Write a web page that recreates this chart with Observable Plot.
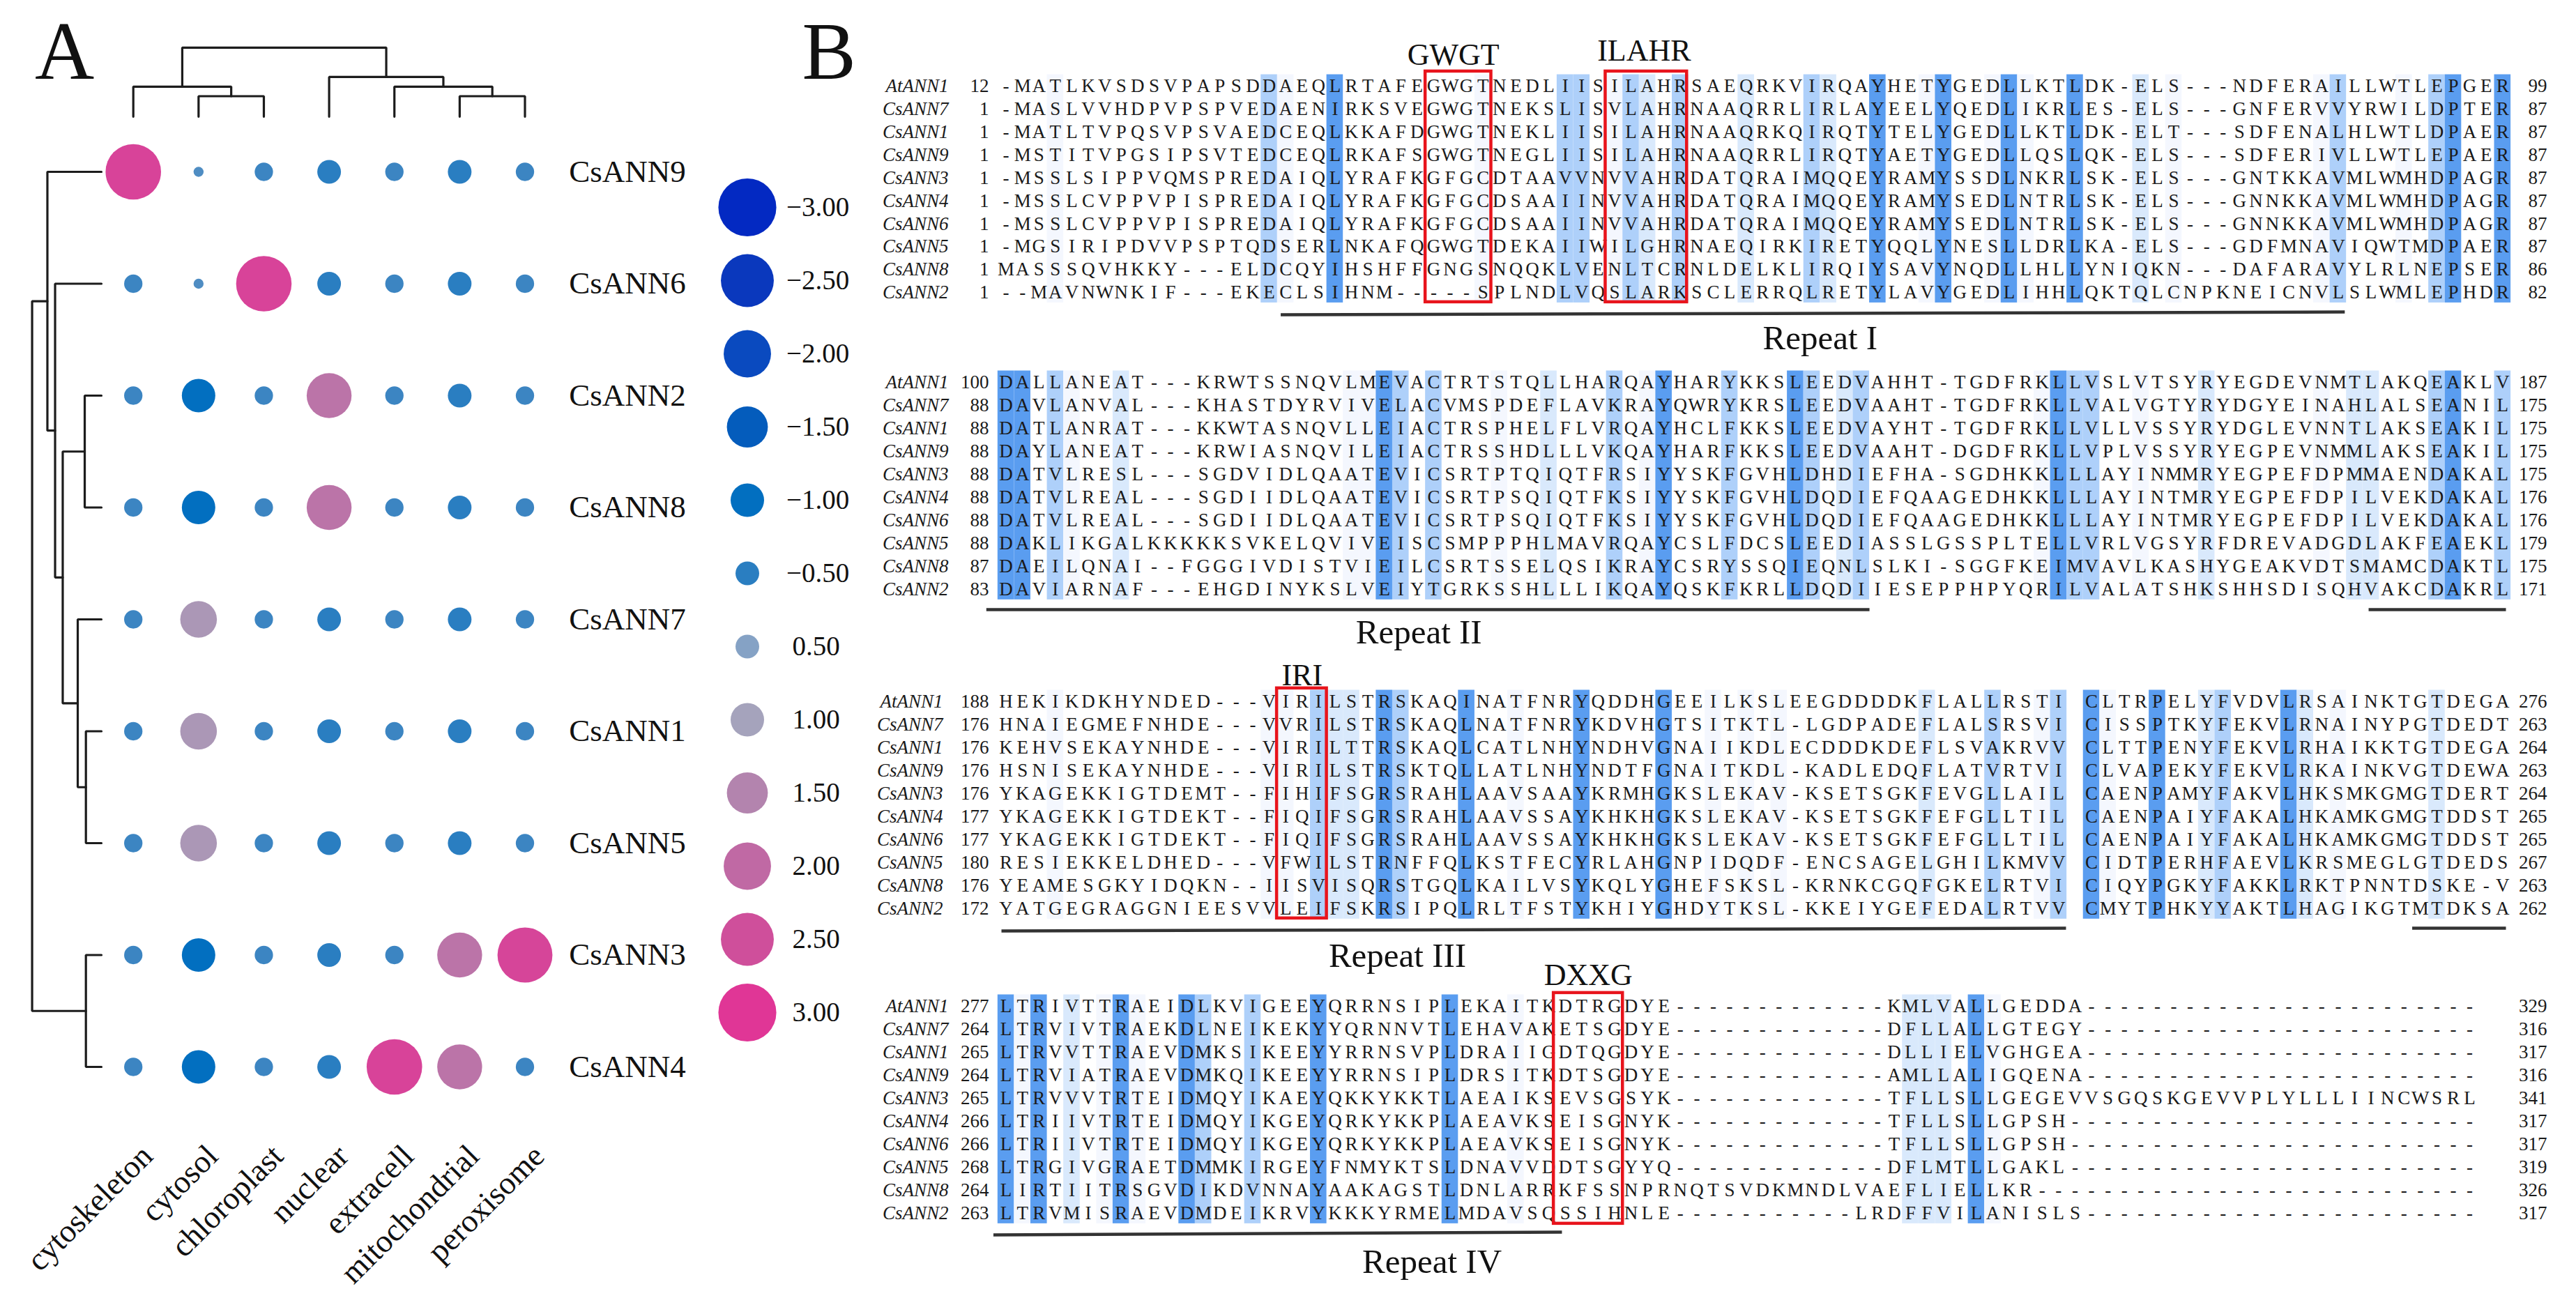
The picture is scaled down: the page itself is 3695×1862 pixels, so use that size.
<!DOCTYPE html>
<html><head><meta charset="utf-8">
<style>
html,body{margin:0;padding:0;background:#fff}
#page{position:relative;width:3695px;height:1862px;overflow:hidden;background:#fff}
#page svg{position:absolute;background:transparent;overflow:visible}
</style>
<script src="https://cdn.jsdelivr.net/npm/d3@7"></script>
<script src="https://cdn.jsdelivr.net/npm/@observablehq/plot@0.6"></script>
</head><body><div id="page"></div>
<script>
// ---------- Panel A data ----------
const genes = ["CsANN9","CsANN6","CsANN2","CsANN8","CsANN7","CsANN1","CsANN5","CsANN3","CsANN4"];
const locations = ["cytoskeleton","cytosol","chloroplast","nuclear","extracell","mitochondrial","peroxisome"];
const csANN9 = [2.75,-0.09,-0.3,-0.5,-0.3,-0.5,-0.3];
const csANN6 = [-0.3,-0.09,2.75,-0.5,-0.3,-0.5,-0.3];
const csANN2 = [-0.3,-1,-0.3,1.8,-0.3,-0.5,-0.3];
const csANN8 = [-0.3,-1,-0.3,1.8,-0.3,-0.5,-0.3];
const csANN7 = [-0.3,1.2,-0.3,-0.5,-0.3,-0.5,-0.3];
const csANN1 = [-0.3,1.2,-0.3,-0.5,-0.3,-0.5,-0.3];
const csANN5 = [-0.3,1.2,-0.3,-0.5,-0.3,-0.5,-0.3];
const csANN3 = [-0.3,-1,-0.3,-0.5,-0.3,1.8,2.7];
const csANN4 = [-0.3,-1,-0.3,-0.5,2.75,1.8,-0.3];
const scores = [csANN9,csANN6,csANN2,csANN8,csANN7,csANN1,csANN5,csANN3,csANN4];
const legendValues = [-3,-2.5,-2,-1.5,-1,-0.5,0.5,1,1.5,2,2.5,3];
const legendColors = ["#0329c2","#0a38bd","#0a4abf","#045cbc","#026fc0","#2a7ec1","#85a2c5","#a5a3bc","#b384ae","#c069a4","#cf4f9b","#e03696"];

// dendrograms: [id, child a, child b, merge height]
const rowMerges = [
  ["n3","CsANN2","CsANN8",0.256],
  ["n5","CsANN1","CsANN5",0.238],
  ["n6","CsANN3","CsANN4",0.238],
  ["n4","CsANN7","n5",0.363],
  ["n2","n3","n4",0.593],
  ["n1","CsANN6","n2",0.710],
  ["n0","CsANN9","n1",0.828],
  ["root","n0","n6",1.062]
];
const colMerges = [
  ["c1","cytosol","chloroplast",0.183],
  ["c2","cytoskeleton","c1",0.268],
  ["c3","mitochondrial","peroxisome",0.183],
  ["c4","extracell","c3",0.268],
  ["c5","nuclear","c4",0.355],
  ["croot","c2","c5",0.617]
];

// ---------- Panel B data ----------
const seqNames = ["AtANN1","CsANN7","CsANN1","CsANN9","CsANN3","CsANN4","CsANN6","CsANN5","CsANN8","CsANN2"];
const seq1 = [
"-MATLKVSDSVPAPSDDAEQLRTAFEGWGTNEDLIISILAHRSAEQRKVIRQAYHETYGEDLLKTLDK-ELS---NDFERAILLWTLEPGER",
"-MASLVVHDPVPSPVEDAENIRKSVEGWGTNEKSLISVLAHRNAAQRRLIRLAYEELYQEDLIKRLES-ELS---GNFERVVYRWILDPTER",
"-MATLTVPQSVPSVAEDCEQLKKAFDGWGTNEKLIISILAHRNAAQRKQIRQTYTELYGEDLLKTLDK-ELT---SDFENALHLWTLDPAER",
"-MSTITVPGSIPSVTEDCEQLRKAFSGWGTNEGLIISILAHRNAAQRRLIRQTYAETYGEDLLQSLQK-ELS---SDFERIVLLWTLEPAER",
"-MSSLSIPPVQMSPREDAIQLYRAFKGFGCDTAAVVNVVAHRDATQRAIMQQEYRAMYSSDLNKRLSK-ELS---GNTKKAVMLWMHDPAGR",
"-MSSLCVPPVPISPREDAIQLYRAFKGFGCDSAAIINVVAHRDATQRAIMQQEYRAMYSEDLNTRLSK-ELS---GNNKKAVMLWMHDPAGR",
"-MSSLCVPPVPISPREDAIQLYRAFKGFGCDSAAIINVVAHRDATQRAIMQQEYRAMYSEDLNTRLSK-ELS---GNNKKAVMLWMHDPAGR",
"-MGSIRIPDVVPSPTQDSERLNKAFQGWGTDEKAIIWILGHRNAEQIRKIRETYQQLYNESLLDRLKA-ELS---GDFMNAVIQWTMDPAER",
"MASSSQVHKKY---ELDCQYIHSHFFGNGSNQQKLVENLTCRNLDELKLIRQIYSAVYNQDLLHLLYNIQKN---DAFARAVYLRLNEPSER",
"--MAVNWNKIF---EKECLSIHNM-----SPLNDLVQSLARKSCLERRQLRETYLAVYGEDLIHHLQKTQLCNPKNEICNVLSLWMLEPHDR"];
const seq2 = [
"DALLANEAT---KRWTSSNQVLMEVACTRTSTQLLHARQAYHARYKKSLEEDVAHHT-TGDFRKLLVSLVTSYRYEGDEVNMTLAKQEAKLV",
"DAVLANVAL---KHASTDYRVIVELACVMSPDEFLAVKRAYQWRYKRSLEEDVAAHT-TGDFRKLLVALVGTYRYDGYEINAHLALSEANIL",
"DATLANRAT---KKWTASNQVLLEIACTRSPHELFLVRQAYHCLFKKSLEEDVAYHT-TGDFRKLLVLLVSSYRYDGLEVNNTLAKSEAKIL",
"DAYLANEAT---KRWIASNQVILEIACTRSSHDLLLVKQAYHARFKKSLEEDVAAHT-DGDFRKLLVPLVSSYRYEGPEVNMMLAKSEAKIL",
"DATVLRESL---SGDVIDLQAATEVICSRTPTQIQTFRSIYYSKFGVHLDHDIEFHA-SGDHKKLLLAYINMMRYEGPEFDPMMAENDAKAL",
"DATVLREAL---SGDIIDLQAATEVICSRTPSQIQTFKSIYYSKFGVHLDQDIEFQAAGEDHKKLLLAYINTMRYEGPEFDPILVEKDAKAL",
"DATVLREAL---SGDIIDLQAATEVICSRTPSQIQTFKSIYYSKFGVHLDQDIEFQAAGEDHKKLLLAYINTMRYEGPEFDPILVEKDAKAL",
"DAKLIKGALKKKKKSVKELQVIVEISCSMPPPHLMAVRQAYCSLFDCSLEEDIASSLGSSPLTELLVRLVGSYRFDREVADGDLAKFEAEKL",
"DAEILQNAI--FGGGIVDISTVIEILCSRTSSELQSIKRAYCSRYSSQIEQNLSLKI-SGGFKEIMVAVLKASHYGEAKVDTSMAMCDAKTL",
"DAVIARNAF---EHGDINYKSLVEIYTGRKSSHLLLIKQAYQSKFKRLLDQDIIESEPPHPYQRILVALATSHKSHHSDISQHVAKCDAKRL"];
const seq3 = [
"HEKIKDKHYNDED---VIRILSTRSKAQINATFNRYQDDHGEEILKSLEEGDDDDKFLALLRSTI CLTRPELYFVDVLRSAINKTGTDEGA",
"HNAIEGMEFNHDE---VVRILSTRSKAQLNATFNRYKDVHGTSITKTL-LGDPADEFLALSRSVI CISSPTKYFEKVLRNAINYPGTDEDT",
"KEHVSEKAYNHDE---VIRILTTRSKAQLCATLNHYNDHVGNAIIKDLECDDDKDEFLSVAKRVV CLTTPENYFEKVLRHAIKKTGTDEGA",
"HSNISEKAYNHDE---VIRILSTRSKTQLLATLNHYNDTFGNAITKDL-KADLEDQFLATVRTVI CLVAPEKYFEKVLRKAINKVGTDEWA",
"YKAGEKKIGTDEMT--FIHIFSGRSRAHLAAVSAAYKRMHGKSLEKAV-KSETSGKFEVGLLAIL CAENPAMYFAKVLHKSMKGMGTDERT",
"YKAGEKKIGTDEKT--FIQIFSGRSRAHLAAVSSAYKHKHGKSLEKAV-KSETSGKFEFGLLTIL CAENPAIYFAKALHKAMKGMGTDDST",
"YKAGEKKIGTDEKT--FIQIFSGRSRAHLAAVSSAYKHKHGKSLEKAV-KSETSGKFEFGLLTIL CAENPAIYFAKALHKAMKGMGTDDST",
"RESIEKKELDHED---VFWILSTRNFFQLKSTFECYRLAHGNPIDQDF-ENCSAGELGHILKMVV CIDTPERHFAEVLKRSMEGLGTDEDS",
"YEAMESGKYIDQKN--IISVISQRSTGQLKAILVSYKQLYGHEFSKSL-KRNKCGQFGKELRTVI CIQYPGKYFAKKLRKTPNNTDSKE-V",
"YATGEGRAGGNIEESVVLEIFSKRSIPQLRLTFSTYKHIYGHDYTKSL-KKEIYGEFEDALRTVV CMYTPHKYYAKTLHAGIKGTMTDKSA"];
const seq4 = [
"LTRIVTTRAEIDLKVIGEEYQRRNSIPLEKAITKDTRGDYE-------------KMLVALLGEDDA------------------------",
"LTRVIVTRAEKDLNEIKEKYYQRNNVTLEHAVAKETSGDYE-------------DFLLALLGTEGY------------------------",
"LTRVVTTRAEVDMKSIKEEYYRRNSVPLDRAIIGDTQGDYE-------------DLLIELVGHGEA------------------------",
"LTRVIATRAEVDMKQIKEEYYRRNSIPLDRSITKDTSGDYE-------------AMLLALIGQENA------------------------",
"LTRVVVTRTEIDMQYIKAEYQKKYKKTLAEAIKSEVSGSYK-------------TFLLSLLGEGEVVSGQSKGEVVPLYLLLIINCWSRL",
"LTRIIVTRTEIDMQYIKGEYQRKYKKPLAEAVKSEISGNYK-------------TFLLSLLGPSH-------------------------",
"LTRIIVTRTEIDMQYIKGEYQRKYKKPLAEAVKSEISGNYK-------------TFLLSLLGPSH-------------------------",
"LTRGIVGRAETDMMKIRGEYFNMYKTSLDNAVVDDTSGYYQ-------------DFLMTLLGAKL-------------------------",
"LIRTIITRSGVDIKDVNNAYAAKAGSTLDNLARRKFSSNPRNQTSVDKMNDLVAEFLIELLKR---------------------------",
"LTRVMISRAEVDMDEIKRVYKKKYRMELMDAVSQSSIHNLE-----------LRDFFVILANISLS------------------------"];
const starts1 = [12,1,1,1,1,1,1,1,1,1];
const ends1 = [99,87,87,87,87,87,87,87,86,82];
const starts2 = [100,88,88,88,88,88,88,88,87,83];
const ends2 = [187,175,175,175,175,176,176,179,175,171];
const starts3 = [188,176,176,176,176,177,177,180,176,172];
const ends3 = [276,263,264,263,264,265,265,267,263,262];
const starts4 = [277,264,265,264,265,266,266,268,264,263];
const ends4 = [329,316,317,316,341,317,317,319,326,317];
// conservation columns: [column, level 1..4]
const shade1 = [[3,1],[16,3],[17,1],[20,4],[29,1],[34,3],[35,3],[37,1],[38,3],[39,2],[41,3],[45,2],[49,3],[50,2],[53,4],[56,1],[57,4],[60,1],[61,4],[62,1],[65,4],[69,2],[71,1],[80,1],[81,3],[85,1],[87,3],[88,4],[91,4]];
const shade2 = [[0,4],[1,4],[3,3],[4,1],[7,2],[21,1],[22,1],[23,4],[24,3],[26,3],[30,1],[33,2],[37,3],[39,1],[40,4],[44,3],[48,4],[49,3],[51,2],[52,3],[63,1],[64,4],[65,3],[66,3],[69,1],[73,2],[80,1],[82,2],[83,2],[87,3],[88,4],[91,3]];
const shade3 = [[3,1],[16,1],[17,1],[19,3],[20,2],[21,2],[23,4],[24,3],[28,4],[31,1],[35,4],[40,4],[43,1],[45,1],[47,1],[56,2],[60,3],[63,1],[64,3],[66,4],[67,1],[70,4],[73,2],[74,3],[78,4],[79,2],[81,1],[87,2]];
const shade4 = [[0,4],[1,1],[2,4],[4,2],[6,1],[7,4],[8,1],[11,4],[12,3],[15,3],[19,4],[27,4],[31,1],[55,2],[56,2],[57,2],[59,4],[60,1]];
// motif boxes: label, first/last column edge, top/bottom row edge, label column/row
const motifs1 = [
  {label:"GWGT",c1:25.5,c2:29.5,r1:-0.64,r2:9.42,lc:27.2,lr:-1.37},
  {label:"ILAHR",c1:36.45,c2:41.4,r1:-0.64,r2:9.42,lc:38.8,lr:-1.55}];
const motifs3 = [{label:"IRI",c1:16.47,c2:19.5,r1:-0.58,r2:9.42,lc:18,lr:-1.15}];
const motifs4 = [{label:"DXXG",c1:33.3,c2:37.5,r1:-0.58,r2:9.45,lc:35.4,lr:-1.36}];
// repeat underlines: column/row at each end
const under1 = [[16.7,9.97,81.4,9.85]];
const under2 = [[-1.2,9.88,52.5,9.88],[82.85,9.88,91.2,9.88]];
const under3 = [[-0.28,9.97,64.45,9.85],[85.5,9.85,91.2,9.85]];
const under4 = [[-0.77,9.94,33.8,9.82]];
const repeats1 = [{label:"Repeat I",c:49.5,r:11.0}];
const repeats2 = [{label:"Repeat II",c:25.1,r:10.88}];
const repeats3 = [{label:"Repeat III",c:23.8,r:11.06}];
const repeats4 = [{label:"Repeat IV",c:25.9,r:11.12}];

// ---------- helpers ----------
const SERIF = "'Liberation Serif','Times New Roman',serif";
const page = document.getElementById("page");
function place(svg,left,top){svg.style.left=left+"px";svg.style.top=top+"px";page.appendChild(svg);}
const rScale = {type:"sqrt",domain:[0,3],range:[0,24*Math.sqrt(3)]};
const colorScale = {type:"linear",domain:legendValues,range:legendColors};

function mergePaths(merges,leaves){
  const pos=new Map(leaves.map((d,i)=>[d,{p:i,h:0}])),out=[];
  for(const [id,a,b,h] of merges){
    const A=pos.get(a),B=pos.get(b);
    out.push({id,p:A.p,h:A.h},{id,p:A.p,h},{id,p:B.p,h},{id,p:B.p,h:B.h});
    pos.set(id,{p:(A.p+B.p)/2,h});
  }
  return out;
}

// ---------- Panel A ----------
const cells = genes.flatMap((g,r)=>locations.map((l,c)=>({g,l,r,c,v:scores[r][c]})));
const rowBase=-0.488, colBase=-0.493;
place(Plot.plot({
  width:1020,height:1862,margin:0,
  style:{background:"transparent",fontFamily:SERIF},
  x:{type:"linear",domain:[0,6],range:[190.7,752.5],axis:null},
  y:{type:"linear",domain:[0,8],range:[246,1530],axis:null},
  r:rScale,color:colorScale,
  marks:[
    Plot.line(mergePaths(rowMerges,genes),{x:d=>rowBase-d.h,y:"p",z:"id",stroke:"#1c1c1c",strokeWidth:3.2,curve:"linear",strokeLinejoin:"miter"}),
    Plot.line(mergePaths(colMerges,locations),{x:"p",y:d=>colBase-d.h,z:"id",stroke:"#1c1c1c",strokeWidth:3.2,curve:"linear",strokeLinejoin:"miter"}),
    Plot.dot(cells,{x:"c",y:"r",r:d=>Math.abs(d.v),fill:"v",stroke:null}),
    Plot.text(genes,{x:()=>6.675,y:(d,i)=>i,text:d=>d,textAnchor:"start",lineAnchor:"middle",fontSize:45,fill:"#111"}),
    Plot.text(locations,{x:(d,i)=>i,y:()=>8.75,text:d=>d,textAnchor:"end",lineAnchor:"middle",rotate:-45,fontSize:46,fill:"#111",dx:20}),
    Plot.text(["A"],{x:()=>-1.054,y:()=>-1.07,text:d=>d,textAnchor:"middle",lineAnchor:"middle",fontSize:118,fill:"#111"})
  ]
}),0,0);

// ---------- Legend ----------
place(Plot.plot({
  width:210,height:1560,margin:0,
  style:{background:"transparent",fontFamily:SERIF},
  x:{type:"linear",domain:[0,1],range:[51.5,116],axis:null},
  y:{type:"point",domain:legendValues,range:[297,1452],padding:0,axis:null},
  r:rScale,color:colorScale,
  marks:[
    Plot.dot(legendValues,{x:()=>0,y:d=>d,r:d=>Math.abs(d),fill:d=>d,stroke:null}),
    Plot.text(legendValues,{x:d=>d<0?0.87:1,y:d=>d,text:d=>d3.format(".2f")(d),textAnchor:"start",lineAnchor:"middle",fontSize:39,fill:"#111"})
  ]
}),1020,0);

// ---------- Panel B blocks ----------
const COL0=1442.6, COLW=23.59;
function block({seqs,starts,ends,shade,motifs,under,repeats,rowTop,rowStep,nameEnd,letter}){
  const left=1130,H=rowTop<200?520:460,topOff=rowTop<200?0:rowTop-90;
  const letters=seqs.flatMap((s,r)=>[...s].map((ch,c)=>({ch,r,c}))).filter(d=>d.ch!==" ");
  const bands=shade.map(([col,level])=>({col,level}));
  const marks=[
    Plot.rect(bands,{x1:d=>d.col-0.5,x2:d=>d.col+0.5,y1:()=>-0.5,y2:()=>9.45,fill:"level"}),
    Plot.text(letters,{x:"c",y:"r",text:"ch",textAnchor:"middle",lineAnchor:"middle",fontSize:27,fill:"#1a1a1a"}),
    Plot.text(seqNames,{x:()=>(nameEnd-COL0)/COLW,y:(d,i)=>i,text:d=>d,textAnchor:"end",lineAnchor:"middle",fontSize:27,fontStyle:"italic",fill:"#1a1a1a"}),
    Plot.text(starts,{x:()=>-1.04,y:(d,i)=>i,text:d=>String(d),textAnchor:"end",lineAnchor:"middle",fontSize:27,fill:"#1a1a1a"}),
    Plot.text(ends,{x:()=>93.7,y:(d,i)=>i,text:d=>String(d),textAnchor:"end",lineAnchor:"middle",fontSize:27,fill:"#1a1a1a"}),
    Plot.link(under,{x1:d=>d[0],y1:d=>d[1],x2:d=>d[2],y2:d=>d[3],stroke:"#333",strokeWidth:4.5}),
    Plot.rect(motifs,{x1:"c1",x2:"c2",y1:"r1",y2:"r2",stroke:"#e8141c",strokeWidth:4.5,fill:"none"}),
    Plot.text(motifs,{x:"lc",y:"lr",text:"label",textAnchor:"middle",lineAnchor:"middle",fontSize:44,fill:"#111"}),
    Plot.text(repeats,{x:"c",y:"r",text:"label",textAnchor:"middle",lineAnchor:"middle",fontSize:49,fill:"#111"})
  ];
  if(letter) marks.push(Plot.text([letter],{frameAnchor:"top-left",dx:20,dy:30,text:d=>d,textAnchor:"start",lineAnchor:"top",fontSize:116,fill:"#111"}));
  place(Plot.plot({
    width:3695-left,height:H,margin:0,
    style:{background:"transparent",fontFamily:SERIF},
    x:{type:"linear",domain:[0,91],range:[COL0-left,COL0-left+91*COLW],axis:null},
    y:{type:"linear",domain:[0,9],range:[rowTop-topOff,rowTop-topOff+9*rowStep],axis:null},
    color:{type:"ordinal",domain:[1,2,3,4],range:["#f4f7fe","#d9e9fc","#aed0fa","#5a9df0"]},
    marks
  }),left,topOff);
}
block({seqs:seq1,starts:starts1,ends:ends1,shade:shade1,motifs:motifs1,under:under1,repeats:repeats1,rowTop:123,rowStep:32.9,nameEnd:1360,letter:"B"});
block({seqs:seq2,starts:starts2,ends:ends2,shade:shade2,motifs:[],under:under2,repeats:repeats2,rowTop:548,rowStep:33,nameEnd:1360});
block({seqs:seq3,starts:starts3,ends:ends3,shade:shade3,motifs:motifs3,under:under3,repeats:repeats3,rowTop:1006,rowStep:33,nameEnd:1352});
block({seqs:seq4,starts:starts4,ends:ends4,shade:shade4,motifs:motifs4,under:under4,repeats:repeats4,rowTop:1443,rowStep:33,nameEnd:1360});
</script></body></html>
